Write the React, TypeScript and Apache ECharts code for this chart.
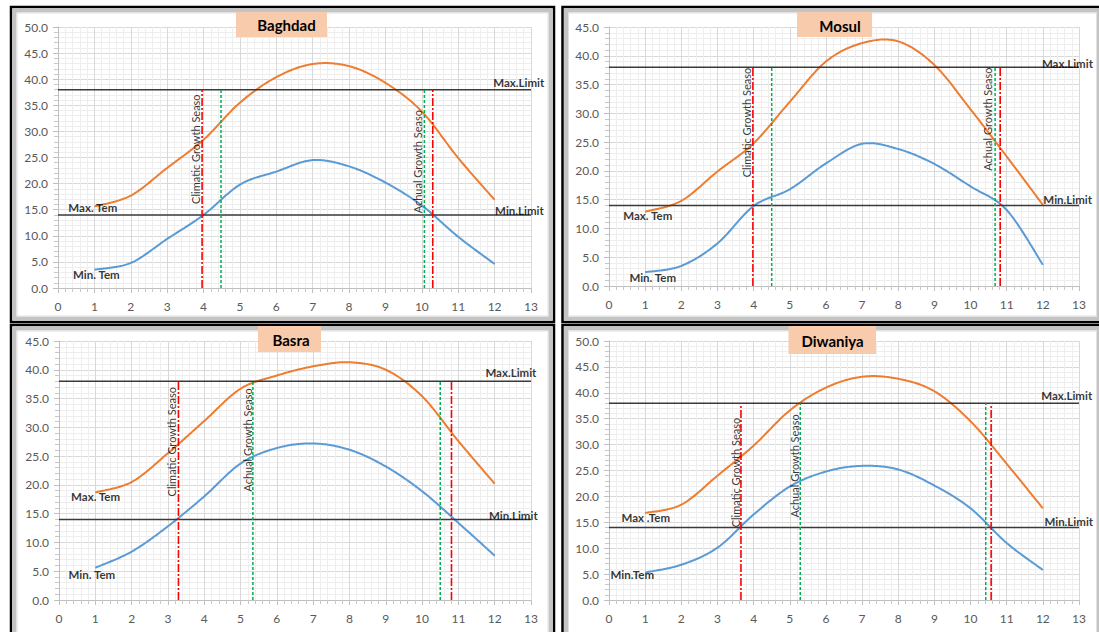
import React, { useEffect, useRef } from 'react';
import * as echarts from 'echarts';

// ---------- data ----------
const months = [1, 2, 3, 4, 5, 6, 7, 8, 9, 10, 11, 12];
const cities = ['Baghdad', 'Mosul', 'Basra', 'Diwaniya'];

const baghdadMax = [15.6, 17.7, 23.0, 28.4, 35.5, 40.4, 42.9, 42.5, 39.3, 33.8, 24.9, 16.9];
const baghdadMin = [3.5, 4.8, 9.4, 14.0, 19.8, 22.3, 24.5, 23.3, 20.2, 15.8, 9.8, 4.6];
const mosulMax = [12.9, 14.8, 19.9, 24.8, 32.0, 39.0, 42.2, 42.5, 38.4, 30.7, 22.5, 14.1];
const mosulMin = [2.4, 3.5, 7.4, 13.9, 16.8, 21.3, 24.7, 23.8, 21.2, 17.3, 13.2, 3.7];
const basraMax = [18.7, 20.5, 25.5, 31.1, 36.7, 39.0, 40.6, 41.3, 40.0, 35.4, 27.6, 20.2];
const basraMin = [5.6, 8.4, 12.8, 18.0, 23.7, 26.4, 27.2, 26.1, 23.2, 18.9, 13.4, 7.7];
const diwaniyaMax = [16.8, 18.4, 24.0, 29.8, 36.6, 41.0, 43.1, 42.7, 40.3, 34.5, 26.3, 17.7];
const diwaniyaMin = [5.3, 6.8, 10.1, 16.5, 21.9, 24.8, 25.9, 25.2, 22.1, 17.7, 11.0, 5.8];

const maxSeries = [baghdadMax, mosulMax, basraMax, diwaniyaMax];
const minSeries = [baghdadMin, mosulMin, basraMin, diwaniyaMin];

const yAxisMax = [50, 45, 45, 50];
const xAxisMax = 13;

const maxLimit = [38, 38, 38, 38];
const minLimit = [14, 14, 14, 14];

// season boundaries (month position)
const climaticStart = [3.96, 3.98, 3.29, 3.65];
const actualStart = [4.48, 4.5, 5.34, 5.29];
const actualEnd = [10.07, 10.68, 10.5, 10.42];
const climaticEnd = [10.3, 10.82, 10.81, 10.57];

// annotation texts and their anchors (in data units)
const maxTemText = ['Max. Tem', 'Max. Tem', 'Max. Tem', 'Max .Tem'];
const minTemText = ['Min. Tem', 'Min. Tem', 'Min. Tem', 'Min.Tem'];
const maxTemAt = [[0.27, 15.5], [0.38, 12.3], [0.32, 18.0], [0.33, 16.0]];
const minTemAt = [[0.4, 2.5], [0.55, 1.45], [0.25, 4.5], [0.03, 4.84]];
const maxLimitAt = [[11.95, 39.4], [11.96, 38.7], [11.73, 39.5], [11.94, 39.5]];
const minLimitAt = [[12.0, 14.9], [12.0, 15.0], [11.83, 14.7], [12.03, 15.2]];
const climaticAt = [[3.77, 26.6], [3.81, 28.4], [3.1, 27.5], [3.49, 24.6]];
const actualAt = [[9.89, 24.2], [10.48, 29.0], [5.18, 27.8], [5.12, 25.9]];

// ---------- layout ----------
const FONT = 'Lato, "Open Sans", sans-serif';
const gridRects = [
  { left: 58, top: 27, width: 473, height: 261 },
  { left: 609, top: 27, width: 470, height: 259 },
  { left: 59, top: 341, width: 472, height: 259 },
  { left: 609, top: 341, width: 470, height: 259 },
];
const frames = [
  { x: 11, y: 7, w: 543, h: 315 },
  { x: 562.5, y: 7, w: 540, h: 315 },
  { x: 11, y: 325, w: 543, h: 320 },
  { x: 562.5, y: 325, w: 540, h: 320 },
];
const titleBoxes = [
  { x: 236, y: 12, w: 91, h: 25, tx: 286.5, ty: 25 },
  { x: 797, y: 12, w: 75, h: 25, tx: 840, ty: 25.5 },
  { x: 258, y: 326, w: 63, h: 26, tx: 291, ty: 340 },
  { x: 788.5, y: 326, w: 87.5, h: 28, tx: 832.5, ty: 341 },
];

// Smooth curve (Excel-like Catmull-Rom Bezier) through pixel points from api.coord
function smoothPoints(pts: number[][]) {
  const out: number[][] = [pts[0]];
  const steps = 24;
  for (let k = 0; k < pts.length - 1; k++) {
    const p0 = pts[k - 1] || pts[k];
    const p1 = pts[k];
    const p2 = pts[k + 1];
    const p3 = pts[k + 2] || pts[k + 1];
    const c1 = [p1[0] + (p2[0] - p0[0]) / 6, p1[1] + (p2[1] - p0[1]) / 6];
    const c2 = [p2[0] - (p3[0] - p1[0]) / 6, p2[1] - (p3[1] - p1[1]) / 6];
    for (let s = 1; s <= steps; s++) {
      const t = s / steps;
      const u = 1 - t;
      const a = u * u * u, b = 3 * u * u * t, c = 3 * u * t * t, d = t * t * t;
      out.push([
        a * p1[0] + b * c1[0] + c * c2[0] + d * p2[0],
        a * p1[1] + b * c1[1] + c * c2[1] + d * p2[1],
      ]);
    }
  }
  return out;
}

function buildOption() {
  const grid: any[] = [];
  const xAxis: any[] = [];
  const yAxis: any[] = [];
  const series: any[] = [];
  const graphic: any[] = [];

  const axisCommon = {
    axisLine: { show: true, lineStyle: { color: '#bfbfbf', width: 1 } },
    axisTick: { show: true, length: 5, lineStyle: { color: '#bfbfbf' } },
    minorTick: { show: true, splitNumber: 5, length: 4, lineStyle: { color: '#c8c8c8' } },
    splitLine: { show: true, lineStyle: { color: '#d9d9d9', width: 1 } },
    minorSplitLine: { show: true, lineStyle: { color: '#eeeeee', width: 1 } },
  };

  frames.forEach((f) => {
    graphic.push({
      type: 'rect',
      silent: true,
      shape: { x: f.x, y: f.y, width: f.w, height: f.h },
      style: { fill: 'none', stroke: '#000', lineWidth: 2.5 },
    });
    graphic.push({
      type: 'rect',
      silent: true,
      shape: { x: f.x + 3.5, y: f.y + 3.5, width: f.w - 7, height: f.h - 7 },
      style: { fill: 'none', stroke: '#c4c4c4', lineWidth: 4 },
    });
    graphic.push({
      type: 'rect',
      silent: true,
      shape: { x: f.x + 6, y: f.y + 6, width: f.w - 12, height: f.h - 12 },
      style: { fill: 'none', stroke: '#e2e2e2', lineWidth: 1 },
    });
  });

  cities.forEach((city, i) => {
    grid.push({ ...gridRects[i], containLabel: false });
    xAxis.push({
      type: 'value',
      gridIndex: i,
      min: 0,
      max: xAxisMax,
      interval: 1,
      ...axisCommon,
      axisLabel: { color: '#595959', fontSize: 12, margin: 12, fontFamily: FONT },
    });
    yAxis.push({
      type: 'value',
      gridIndex: i,
      min: 0,
      max: yAxisMax[i],
      interval: 5,
      ...axisCommon,
      axisLabel: {
        color: '#595959',
        fontSize: 12,
        margin: 10,
        fontFamily: FONT,
        formatter: (v: number) => v.toFixed(1),
      },
    });

    const base = { xAxisIndex: i, yAxisIndex: i, silent: true };

    const curve = (vals: number[], color: string, name: string) => ({
      ...base,
      type: 'custom',
      name,
      z: 3,
      data: months.map((m, j) => [m, vals[j]]),
      encode: { x: 0, y: 1 },
      renderItem: (params: any, api: any) => {
        if (params.dataIndex !== 0) return null;
        const pts = months.map((m, j) => api.coord([m, vals[j]]));
        return {
          type: 'polyline',
          shape: { points: smoothPoints(pts) },
          style: { stroke: color, fill: 'none', lineWidth: 2 },
        };
      },
    });
    series.push(curve(maxSeries[i], '#ED7D31', city + ' Max. Tem'));
    series.push(curve(minSeries[i], '#5B9BD5', city + ' Min. Tem'));

    [maxLimit[i], minLimit[i]].forEach((lim) => {
      series.push({
        ...base,
        type: 'line',
        symbol: 'none',
        data: [[0, lim], [xAxisMax, lim]],
        lineStyle: { color: '#3a3a3a', width: 1.5 },
        z: 4,
      });
    });
    [climaticStart[i], climaticEnd[i]].forEach((x) => {
      series.push({
        ...base,
        type: 'line',
        symbol: 'none',
        data: [[x, 0], [x, maxLimit[i]]],
        lineStyle: { color: '#FF0000', width: 1.6, type: [8, 2, 2, 2] },
        z: 5,
      });
    });
    [actualStart[i], actualEnd[i]].forEach((x) => {
      series.push({
        ...base,
        type: 'line',
        symbol: 'none',
        data: [[x, 0], [x, maxLimit[i]]],
        lineStyle: { color: '#00B050', width: 1.5, type: [3, 2] },
        z: 5,
      });
    });

    series.push({
      ...base,
      type: 'scatter',
      symbol: 'circle',
      symbolSize: 1,
      itemStyle: { color: 'rgba(0,0,0,0)' },
      clip: false,
      z: 6,
      label: {
        show: true,
        position: 'right',
        distance: 0,
        formatter: '{b}',
        color: '#000',
        fontSize: 11.5,
        fontWeight: 'bold',
        fontFamily: FONT,
      },
      data: [
        { name: maxTemText[i], value: maxTemAt[i] },
        { name: minTemText[i], value: minTemAt[i] },
        { name: 'Max.Limit', value: maxLimitAt[i] },
        { name: 'Min.Limit', value: minLimitAt[i] },
      ],
    });
    series.push({
      ...base,
      type: 'scatter',
      symbol: 'circle',
      symbolSize: 1,
      itemStyle: { color: 'rgba(0,0,0,0)' },
      clip: false,
      z: 6,
      label: {
        show: true,
        position: 'inside',
        rotate: 90,
        formatter: '{b}',
        color: '#000',
        fontSize: 11,
        fontFamily: FONT,
      },
      data: [
        { name: 'Climatic Growth Seaso', value: climaticAt[i] },
        { name: 'Achual Growth Seaso', value: actualAt[i] },
      ],
    });

    const t = titleBoxes[i];
    graphic.push({
      type: 'rect',
      silent: true,
      z: 10,
      shape: { x: t.x, y: t.y, width: t.w, height: t.h },
      style: { fill: '#F8CBAD' },
    });
    graphic.push({
      type: 'text',
      silent: true,
      z: 11,
      x: t.tx,
      y: t.ty,
      style: {
        text: city,
        fill: '#000',
        font: 'bold 15px ' + FONT,
        align: 'center',
        verticalAlign: 'middle',
      },
    });
  });

  return {
    animation: false,
    backgroundColor: '#ffffff',
    grid,
    xAxis,
    yAxis,
    series,
    graphic,
  };
}

export default function App() {
  const ref = useRef<HTMLDivElement>(null);
  useEffect(() => {
    if (!ref.current) return;
    const chart = echarts.init(ref.current, undefined, { renderer: 'svg' });
    chart.setOption(buildOption() as any);
    return () => chart.dispose();
  }, []);
  return (
    <div
      ref={ref}
      style={{ position: 'fixed', left: 0, top: 0, width: 1099, height: 632, background: '#fff' }}
    />
  );
}
